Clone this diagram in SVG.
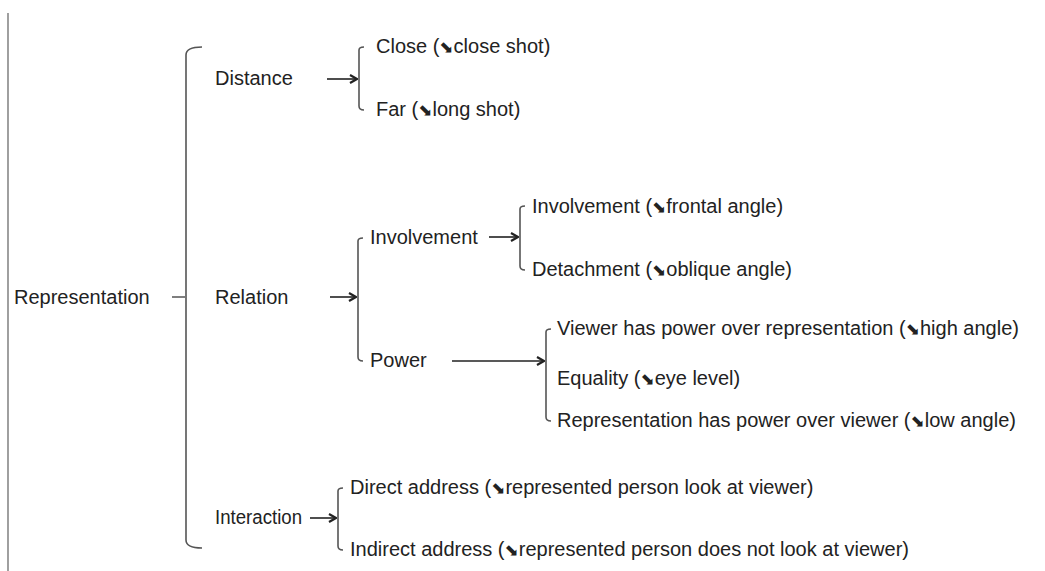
<svg xmlns="http://www.w3.org/2000/svg" width="1045" height="571" viewBox="0 0 1045 571">
<defs>
<style>
text{font-family:"Liberation Sans",Arial,sans-serif;font-size:20px;fill:#222}
.g{font-family:"DejaVu Sans",sans-serif;font-size:17px}
.br{fill:none;stroke:#555;stroke-width:1.6}
.ar{fill:none;stroke:#222;stroke-width:1.6}
</style>
<marker id="ah" viewBox="0 0 10 10" refX="9" refY="5" markerWidth="10" markerHeight="10" markerUnits="userSpaceOnUse" orient="auto">
<path d="M2,1 L9,5 L2,9" fill="none" stroke="#222" stroke-width="2.2"/>
</marker>
</defs>
<rect width="1045" height="571" fill="#fff"/>
<line x1="8" y1="13" x2="8" y2="571" stroke="#777" stroke-width="1.4"/>
<g id="connectors">
<path class="br" d="M172,297 H185 M202,47 Q186,47 186,55 V540 Q186,548 202,548"/>
<path class="ar" d="M327,79 H357" marker-end="url(#ah)"/>
<path class="br" d="M364,47 Q359,47 359,50 V106 Q359,110 364,110"/>
<path class="ar" d="M330,297 H356" marker-end="url(#ah)"/>
<path class="br" d="M363,238 Q358,238 358,241 V357 Q358,361 363,361"/>
<path class="ar" d="M489,237 H518" marker-end="url(#ah)"/>
<path class="br" d="M525,206 Q520,206 520,209 V266 Q520,270 525,270"/>
<path class="ar" d="M452,361 H544" marker-end="url(#ah)"/>
<path class="br" d="M551,329 Q546,329 546,332 V417 Q546,421 551,421"/>
<path class="ar" d="M310,518 H336" marker-end="url(#ah)"/>
<path class="br" d="M343,488 Q338,488 338,491 V546 Q338,550 343,550"/>
</g>
<g id="n-representation"><text x="14" y="304">Representation</text></g>
<g id="n-distance"><text x="215" y="85">Distance</text></g>
<g id="n-close"><text x="376" y="53">Close (<tspan class="g">⬊</tspan>close shot)</text></g>
<g id="n-far"><text x="376" y="116">Far (<tspan class="g">⬊</tspan>long shot)</text></g>
<g id="n-relation"><text x="215" y="304">Relation</text></g>
<g id="n-involvement"><text x="370" y="244">Involvement</text></g>
<g id="n-inv-frontal"><text x="532" y="213">Involvement (<tspan class="g">⬊</tspan>frontal angle)</text></g>
<g id="n-detachment"><text x="532" y="276">Detachment (<tspan class="g">⬊</tspan>oblique angle)</text></g>
<g id="n-power"><text x="370" y="367">Power</text></g>
<g id="n-viewer-power"><text x="557" y="335">Viewer has power over representation (<tspan class="g">⬊</tspan>high angle)</text></g>
<g id="n-equality"><text x="557" y="385">Equality (<tspan class="g">⬊</tspan>eye level)</text></g>
<g id="n-repr-power"><text x="557" y="427">Representation has power over viewer (<tspan class="g">⬊</tspan>low angle)</text></g>
<g id="n-interaction"><text x="215" y="524" textLength="87" lengthAdjust="spacingAndGlyphs">Interaction</text></g>
<g id="n-direct"><text x="350" y="494">Direct address (<tspan class="g">⬊</tspan>represented person look at viewer)</text></g>
<g id="n-indirect"><text x="350" y="556">Indirect address (<tspan class="g">⬊</tspan>represented person does not look at viewer)</text></g>
</svg>
